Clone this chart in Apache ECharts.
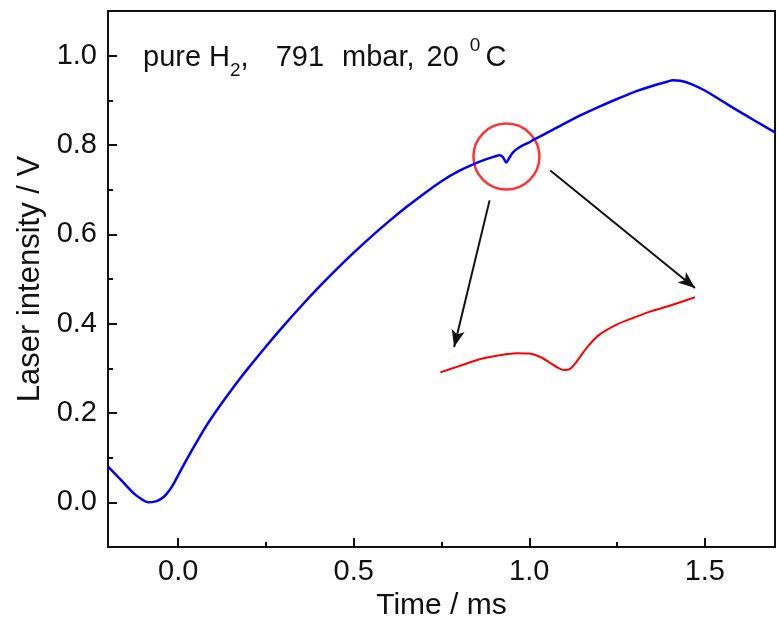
<!DOCTYPE html>
<html>
<head>
<meta charset="utf-8">
<script src="https://cdn.jsdelivr.net/npm/echarts@6/dist/echarts.min.js"></script>
<style>html,body{margin:0;padding:0;background:#fff}#c{width:778px;height:628px}</style>
</head>
<body>
<div id="c"></div>
<script>
// ---- data ----
const blueX = [-0.2,-0.175,-0.15,-0.125,-0.1,-0.085,-0.07,-0.055,-0.04,-0.025,-0.01,0.0,0.02,0.04,0.06,0.08,0.1,0.125,0.15,0.175,0.2,0.25,0.3,0.35,0.4,0.45,0.5,0.55,0.6,0.65,0.7,0.75,0.8,0.85,0.88,0.9,0.915,0.925,0.934,0.943,0.953,0.972,1.0,1.015,1.05,1.1,1.15,1.2,1.25,1.3,1.35,1.39,1.41,1.43,1.46,1.5,1.55,1.6,1.65,1.7];
const blueY = [0.080,0.060,0.039,0.019,0.005,0.000,0.001,0.005,0.013,0.027,0.046,0.061,0.090,0.118,0.145,0.171,0.195,0.223,0.250,0.276,0.301,0.349,0.395,0.439,0.481,0.521,0.559,0.595,0.629,0.661,0.691,0.719,0.742,0.760,0.769,0.774,0.777,0.773,0.761,0.771,0.783,0.795,0.806,0.813,0.827,0.848,0.868,0.886,0.903,0.919,0.932,0.941,0.945,0.944,0.937,0.922,0.898,0.874,0.851,0.828];
const redX = [0.747,0.8,0.867,0.92,0.963,1.0,1.03,1.058,1.08,1.1,1.115,1.13,1.144,1.17,1.201,1.249,1.3,1.344,1.4,1.472];
const redY = [0.291,0.305,0.322,0.330,0.334,0.333,0.326,0.313,0.302,0.296,0.298,0.310,0.325,0.352,0.376,0.398,0.414,0.427,0.440,0.459];
const xTicks = [0, 0.5, 1.0, 1.5];
const xMinorTicks = [0.25, 0.75, 1.25];
const yTicks = [0, 0.2, 0.4, 0.6, 0.8, 1.0];
const yMinorTicks = [0.1, 0.3, 0.5, 0.7, 0.9];
const xRange = [-0.2, 1.7];
const yRange = [-0.1, 1.1];
// annotation anchors (data coordinates)
const circleCenter = [0.935, 0.774];
const arrowLeft = [[0.887, 0.676], [0.786, 0.348]];
const arrowRight = [[1.060, 0.743], [1.472, 0.480]];

const FONT = 'Liberation Sans, Arial, sans-serif';
const chart = echarts.init(document.getElementById('c'), null, {renderer: 'canvas'});
const fmt = v => Number(v).toFixed(1);

const mainX = {
  type: 'value', min: xRange[0], max: xRange[1], position: 'bottom',
  name: 'Time / ms', nameLocation: 'middle', nameGap: 43,
  nameTextStyle: {fontFamily: FONT, fontSize: 30, color: '#111'},
  axisLine: {show: true, onZero: false, lineStyle: {color: '#111', width: 2}},
  axisTick: {show: true, inside: true, length: 9, customValues: xTicks, lineStyle: {color: '#111', width: 2}},
  axisLabel: {show: true, margin: 10, customValues: xTicks, formatter: fmt, fontFamily: FONT, fontSize: 29, color: '#111'},
  splitLine: {show: false}
};
const minorX = {
  type: 'value', min: xRange[0], max: xRange[1], position: 'bottom',
  axisLine: {show: false, onZero: false},
  axisTick: {show: true, inside: true, length: 5, customValues: xMinorTicks, lineStyle: {color: '#111', width: 2}},
  axisLabel: {show: false}, splitLine: {show: false}
};
const mainY = {
  type: 'value', min: yRange[0], max: yRange[1], position: 'left',
  name: 'Laser intensity / V', nameLocation: 'middle', nameGap: 61,
  nameTextStyle: {fontFamily: FONT, fontSize: 31, color: '#111'},
  axisLine: {show: true, onZero: false, lineStyle: {color: '#111', width: 2}},
  axisTick: {show: true, inside: true, length: 9, customValues: yTicks, lineStyle: {color: '#111', width: 2}},
  axisLabel: {show: true, margin: 11, customValues: yTicks, formatter: fmt, fontFamily: FONT, fontSize: 29, color: '#111'},
  splitLine: {show: false}
};
const minorY = {
  type: 'value', min: yRange[0], max: yRange[1], position: 'left',
  axisLine: {show: false, onZero: false},
  axisTick: {show: true, inside: true, length: 5, customValues: yMinorTicks, lineStyle: {color: '#111', width: 2}},
  axisLabel: {show: false}, splitLine: {show: false}
};

const zip = (a, b) => a.map((v, i) => [v, b[i]]);
const base = {fontFamily: FONT, fontSize: 29, fontWeight: 'normal', color: '#111', lineHeight: 44};

chart.setOption({
  animation: false,
  backgroundColor: '#fff',
  grid: {left: 108, right: 3, top: 11, bottom: 81, show: true, borderColor: '#111', borderWidth: 2, backgroundColor: 'transparent'},
  title: {
    left: 138, top: 31,
    text: '{a|pure H}{sub|2}{a|,}{b|791}{c|mbar,}{d|20}{sup|0}{e|C}',
    textStyle: {
      fontWeight: 'normal',
      rich: {
        a: base,
        b: Object.assign({}, base, {padding: [0, 0, 0, 27]}),
        c: Object.assign({}, base, {padding: [0, 0, 0, 18]}),
        d: Object.assign({}, base, {padding: [0, 0, 0, 12]}),
        e: Object.assign({}, base, {padding: [0, 0, 0, 5]}),
        sub: {fontFamily: FONT, fontSize: 19, fontWeight: 'normal', color: '#111', lineHeight: 30, verticalAlign: 'bottom'},
        sup: {fontFamily: FONT, fontSize: 19, fontWeight: 'normal', color: '#111', lineHeight: 18, verticalAlign: 'top', padding: [0, 0, 0, 11]}
      }
    }
  },
  xAxis: [mainX, minorX],
  yAxis: [mainY, minorY],
  series: [
    {
      type: 'line', xAxisIndex: 0, yAxisIndex: 0, data: zip(blueX, blueY),
      showSymbol: false, smooth: 0.3, lineStyle: {color: '#0000ff', width: 2.5}, itemStyle: {color: '#0000ff'},
      silent: true
    },
    {
      type: 'line', xAxisIndex: 0, yAxisIndex: 0, data: zip(redX, redY),
      showSymbol: false, smooth: 0.3, lineStyle: {color: '#ff0000', width: 2}, itemStyle: {color: '#ff0000'},
      silent: true,
      markLine: {
        silent: true, animation: false,
        symbol: ['none', 'arrow'], symbolSize: [10, 17],
        label: {show: false},
        lineStyle: {color: '#111', width: 2, type: 'solid'},
        emphasis: {disabled: true},
        data: [
          [{coord: arrowLeft[0]}, {coord: arrowLeft[1]}],
          [{coord: arrowRight[0]}, {coord: arrowRight[1]}]
        ]
      }
    },
    {
      type: 'scatter', xAxisIndex: 0, yAxisIndex: 0, data: [circleCenter],
      symbol: 'circle', symbolSize: 66, silent: true,
      itemStyle: {color: 'rgba(0,0,0,0)', borderColor: '#ff0000', borderWidth: 2.5}
    }
  ]
});
</script>
</body>
</html>
